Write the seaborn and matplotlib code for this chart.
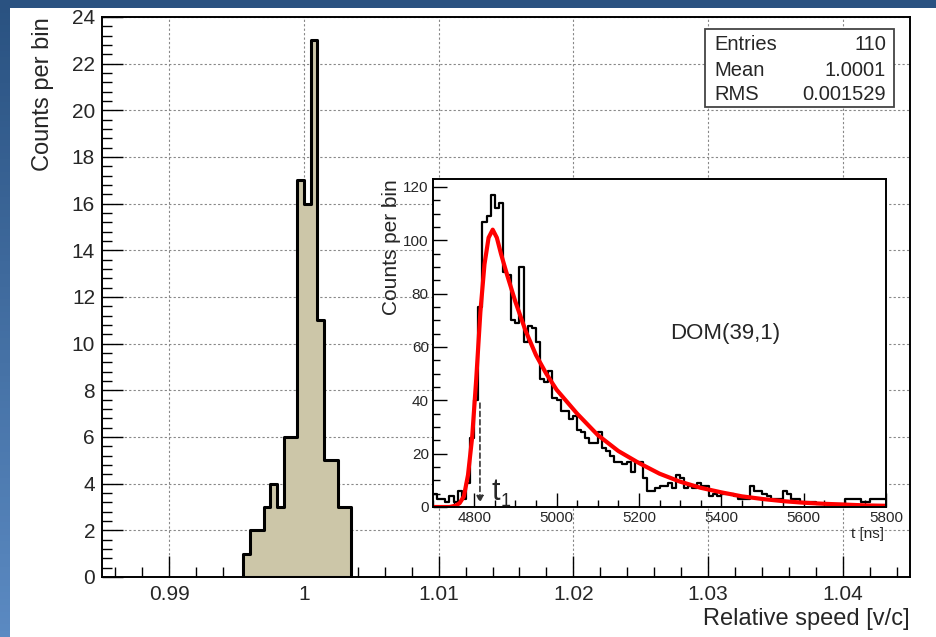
import numpy as np
import pandas as pd
import seaborn as sns
import matplotlib.pyplot as plt
from matplotlib.patches import Rectangle
from matplotlib.ticker import MultipleLocator

# main histogram: relative speed, 16 bins of 0.0005 starting at 0.9955
speed_lo = 0.9955
speed_w = 0.0005
speed_counts = [1, 2, 2, 3, 4, 3, 6, 6, 17, 16, 23, 11, 5, 5, 3, 3]

stats_names = ['Entries', 'Mean', 'RMS']
stats_values = ['110', '1.0001', '0.001529']

# inset: hit times of DOM(39,1), 10 ns bins from 4700 ns
time_lo = 4700
time_w = 10
time_counts = [
    5, 3, 3, 2, 4, 2, 6, 3, 9, 26,
    40, 75, 107, 109, 117, 112, 114, 88, 87, 70,
    69, 90, 62, 68, 67, 62, 48, 47, 51, 41,
    40, 36, 36, 33, 34, 29, 28, 26, 24, 24,
    28, 22, 21, 19, 17, 17, 16, 17, 13, 17,
    17, 11, 6, 6, 7, 8, 8, 9, 7, 12,
    11, 7, 8, 7, 9, 8, 8, 4, 5, 4,
    5, 5, 5, 4, 3, 3, 3, 8, 6, 6,
    5, 4, 3, 3, 3, 6, 5, 3, 3, 2,
    2, 2, 2, 1, 1, 1, 1, 1, 1, 1,
    3, 3, 3, 3, 2, 2, 3, 3, 3, 3,
]

# fitted curve
fit_t = [4700, 4740, 4755, 4765, 4775, 4785, 4795, 4805, 4815, 4825, 4835,
         4845, 4855, 4865, 4880, 4900, 4925, 4950, 4975, 5000, 5050, 5100,
         5150, 5200, 5250, 5300, 5350, 5400, 5450, 5500, 5550, 5600, 5650,
         5700, 5750, 5800]
fit_y = [0, 0, 0.5, 1.5, 4, 12, 26, 48, 73, 91, 101,
         104, 101, 95, 87, 77, 66, 57, 50, 44, 35, 27,
         21, 16.5, 12.5, 9.5, 7.2, 5.5, 4.0, 3.0, 2.2, 1.6, 1.2,
         0.9, 0.6, 0.45]
t1 = 4814

sns.set_style('white')
plt.rcParams['font.family'] = ['Liberation Sans', 'DejaVu Sans']

W, H = 936, 637
fig = plt.figure(figsize=(W / 100, H / 100), dpi=100)

# slide background: blue band on top and left
bg = fig.add_axes([0, 0, 1, 1], zorder=-10)
grad = np.linspace(0, 1, 100)[:, None]
bg.imshow(grad, extent=[0, 1, 0, 1], aspect='auto',
          cmap=sns.blend_palette(['#2a5281', '#5b8ac2'], as_cmap=True))
bg.axis('off')
fig.add_artist(Rectangle((10 / W, 0), 1, (H - 8) / H, transform=fig.transFigure,
                         facecolor='white', edgecolor='none', zorder=-5))

# ---- main axes
ax = fig.add_axes([102 / W, (H - 577) / H, 808 / W, 560 / H])
edges = speed_lo + speed_w * np.arange(len(speed_counts) + 1)
df_speed = pd.DataFrame({'v': (edges[:-1] + edges[1:]) / 2, 'n': speed_counts})
sns.histplot(data=df_speed, x='v', weights='n', bins=list(edges), element='step', fill=True,
             color='#ccc6a8', edgecolor='black', linewidth=2.2, alpha=1, ax=ax, zorder=3)
ax.set_xlim(0.985, 1.045)
ax.set_ylim(0, 24)
ax.set_xticks([0.99, 1.0, 1.01, 1.02, 1.03, 1.04])
ax.set_xticklabels(['0.99', '1', '1.01', '1.02', '1.03', '1.04'])
ax.xaxis.set_minor_locator(MultipleLocator(0.002))
ax.yaxis.set_major_locator(MultipleLocator(2))
ax.yaxis.set_minor_locator(MultipleLocator(0.4))
ax.tick_params(which='both', direction='in', bottom=True, left=True, top=False, right=False,
               labelsize=15, width=1, color='black')
ax.tick_params(which='major', length=15)
ax.tick_params(which='minor', length=7)
ax.tick_params(axis='x', pad=6)
ax.tick_params(axis='y', pad=5)
ax.grid(True, which='major', color='#888888', linestyle=(0, (2, 2)), linewidth=0.8)
ax.set_axisbelow(True)
for s in ax.spines.values():
    s.set_linewidth(1.4)
    s.set_color('black')
ax.set_xlabel('Relative speed [v/c]', fontsize=17, loc='right')
ax.xaxis.set_label_coords(1.0, -0.056)
ax.set_ylabel('Counts per bin', fontsize=17, loc='top')
ax.yaxis.set_label_coords(-0.06, 1.0)

# stats box
fig.add_artist(Rectangle((705 / W, (H - 107) / H), 189 / W, 78 / H, transform=fig.transFigure,
                         facecolor='white', edgecolor='#444444', linewidth=1.3, zorder=5))
for i, (n, v) in enumerate(zip(stats_names, stats_values)):
    yy = (H - (45 + 25 * i)) / H
    fig.text(714 / W, yy, n, fontsize=14.5, va='center', ha='left', zorder=6)
    fig.text(886 / W, yy, v, fontsize=14.5, va='center', ha='right', zorder=6)

# ---- inset
ax_in = fig.add_axes([433 / W, (H - 507) / H, 453 / W, 328 / H])
ax_in.set_facecolor('white')
t_edges = time_lo + time_w * np.arange(len(time_counts) + 1)
df_time = pd.DataFrame({'t': (t_edges[:-1] + t_edges[1:]) / 2, 'n': time_counts})
sns.histplot(data=df_time, x='t', weights='n', bins=list(t_edges), element='step', fill=False,
             color='black', linewidth=1.6, ax=ax_in)
sns.lineplot(x=fit_t, y=fit_y, color='red', linewidth=3, sort=False, ax=ax_in)
ax_in.set_xlim(4700, 5800)
ax_in.set_ylim(0, 123)
ax_in.xaxis.set_major_locator(MultipleLocator(200))
ax_in.xaxis.set_minor_locator(MultipleLocator(50))
ax_in.yaxis.set_major_locator(MultipleLocator(20))
ax_in.yaxis.set_minor_locator(MultipleLocator(5))
ax_in.tick_params(which='both', direction='in', bottom=True, left=True, top=False, right=False,
                  labelsize=11, width=1, color='black')
ax_in.tick_params(which='major', length=10)
ax_in.tick_params(which='minor', length=5)
ax_in.tick_params(axis='x', pad=3)
ax_in.tick_params(axis='y', pad=3)
ax_in.grid(False)
for s in ax_in.spines.values():
    s.set_linewidth(1.4)
    s.set_color('black')
ax_in.set_xlabel('t [ns]', fontsize=11, loc='right')
ax_in.xaxis.set_label_coords(0.995, -0.062)
ax_in.set_ylabel('Counts per bin', fontsize=15, loc='top')
ax_in.yaxis.set_label_coords(-0.07, 1.0)

ax_in.annotate('', xy=(t1, 0.5), xytext=(t1, 40),
               arrowprops=dict(arrowstyle='-|>', linestyle=(0, (3, 2)), color='#333333',
                               lw=1.2, mutation_scale=10))
ax_in.text(4843, 2.5, 't', fontsize=22, ha='left', va='baseline')
ax_in.text(4863, 0.3, '1', fontsize=13, ha='left', va='baseline')
ax_in.text(5409, 65, 'DOM(39,1)', fontsize=16, ha='center', va='center')

fig.savefig('out.png', dpi=100)
